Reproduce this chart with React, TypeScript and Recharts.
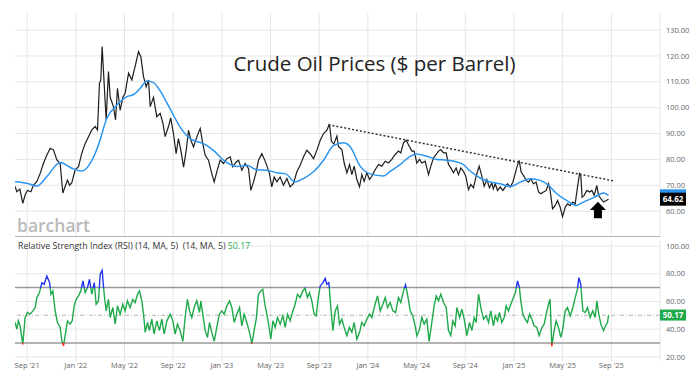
import React from 'react';
import { LineChart, Line, XAxis, YAxis, ReferenceLine, ReferenceDot } from 'recharts';

// x = months since Sep 2021 (Sep '21 = 0)
const xTicks = [0, 4, 8, 12, 16, 20, 24, 28, 32, 36, 40, 44, 48];
const xTickLabels = ["Sep '21", "Jan '22", "May '22", "Sep '22", "Jan '23", "May '23", "Sep '23", "Jan '24", "May '24", "Sep '24", "Jan '25", "May '25", "Sep '25"];
const priceTicks = [60, 70, 80, 90, 100, 110, 120, 130];
const rsiTicks = [20, 40, 60, 80, 100];

const pricePoints: [number, number][] = [
  [-0.99, 69.5], [-0.85, 67.5], [-0.6, 68.5], [-0.36, 63], [-0.15, 66.5], [0.03, 68], [0.3, 67.5], [0.52, 70], [0.8, 71.5],
  [1.07, 74.6], [1.34, 78.5], [1.62, 81.7], [1.89, 84.3], [2.16, 83.7], [2.44, 79.8], [2.71, 78.5], [2.93, 67], [3.12, 69.5],
  [3.31, 72], [3.48, 70], [3.67, 71], [3.94, 76], [4.22, 77.2], [4.49, 82.4], [4.77, 86.2], [5.04, 88.8], [5.31, 91.4],
  [5.59, 92.7], [5.78, 91.4], [5.94, 109.4], [6.05, 110.7], [6.16, 123.6], [6.33, 109], [6.49, 95.3], [6.68, 114], [6.82, 104],
  [7.09, 100.4], [7.26, 95.3], [7.42, 107.5], [7.64, 99], [7.86, 104], [8.05, 105.6], [8.33, 113.3], [8.6, 110.7], [8.87, 116],
  [9.15, 121.7], [9.34, 119.7], [9.56, 112], [9.78, 108], [9.97, 110.7], [10.11, 100.4], [10.38, 104], [10.65, 96.5], [10.93, 97.8],
  [11.15, 94], [11.34, 88.8], [11.61, 92.7], [11.8, 96], [12.02, 90], [12.24, 82.2], [12.43, 88], [12.63, 83.5], [12.85, 77],
  [13.07, 83.5], [13.26, 91.2], [13.45, 87.4], [13.67, 84.8], [13.94, 88.7], [14.22, 92], [14.43, 86.1], [14.63, 81.6], [14.9, 79.7],
  [15.17, 74.5], [15.37, 71.3], [15.58, 75.2], [15.86, 79.7], [16.13, 78.4], [16.41, 80.3], [16.68, 81], [16.9, 77.1], [17.17, 79],
  [17.37, 79.7], [17.64, 75.8], [17.91, 78.4], [18.19, 76.4], [18.38, 68], [18.6, 71.3], [18.82, 75.2], [19.01, 79.7], [19.28, 82.2],
  [19.47, 80.3], [19.69, 77.7], [19.91, 74.5], [20.1, 69.4], [20.3, 73.2], [20.52, 71.3], [20.79, 73.2], [21.06, 70], [21.34, 72.6],
  [21.61, 69.4], [21.88, 70.7], [22.16, 75.2], [22.43, 77.7], [22.71, 81], [22.98, 83.5], [23.25, 82.2], [23.53, 80.3], [23.8, 83.5],
  [24.08, 87.4], [24.35, 90], [24.62, 91.2], [24.84, 93.7], [25.0, 87], [25.2, 86], [25.45, 89], [25.58, 85], [25.86, 83.8],
  [26.05, 78.6], [26.27, 74.8], [26.49, 78], [26.68, 74.1], [26.87, 77.4], [27.09, 72.2], [27.31, 69.4], [27.5, 74.1], [27.69, 71.5],
  [27.91, 74.8], [28.13, 72.2], [28.32, 73.5], [28.59, 76], [28.87, 78], [29.14, 77.4], [29.42, 79.3], [29.69, 78.6], [29.96, 80],
  [30.24, 81.9], [30.51, 83.2], [30.7, 82.5], [30.92, 86.4], [31.14, 87.4], [31.33, 85.7], [31.61, 83.2], [31.8, 83.2], [32.02, 78.6],
  [32.24, 80], [32.43, 78.6], [32.7, 79.3], [32.98, 74.1], [33.17, 77.4], [33.39, 80.6], [33.61, 81.9], [33.8, 83.2], [33.99, 83.8],
  [34.21, 82.5], [34.43, 82.5], [34.62, 78], [34.81, 76.7], [35.03, 74.8], [35.25, 76.7], [35.44, 74.1], [35.63, 76.7], [35.85, 75.4],
  [36.04, 73.5], [36.26, 68.3], [36.46, 70.3], [36.67, 69], [36.89, 73.5], [37.14, 77.4], [37.36, 73.5], [37.55, 69.6], [37.77, 72.2],
  [37.99, 69], [38.18, 70.9], [38.3, 68.6], [38.46, 70.6], [38.65, 68], [38.87, 69.3], [39.09, 68], [39.28, 69.3], [39.47, 70.6],
  [39.69, 69.3], [39.91, 71.2], [40.1, 74.5], [40.24, 77], [40.43, 79.6], [40.59, 75.1], [40.78, 73.8], [41.0, 71.9], [41.19, 71.2],
  [41.39, 72.5], [41.6, 70.6], [41.82, 71.2], [42.02, 67.4], [42.21, 66.7], [42.43, 67.4], [42.65, 68], [42.84, 70.6], [42.97, 68],
  [43.17, 60.9], [43.39, 62.2], [43.58, 64.1], [43.8, 61.5], [43.99, 57.9], [44.21, 61.5], [44.4, 62.8], [44.62, 62.2], [44.84, 63.5],
  [45.03, 62.8], [45.22, 69.3], [45.39, 74.5], [45.49, 73.8], [45.6, 65.4], [45.77, 66.1], [45.99, 68], [46.21, 67.4], [46.4, 68],
  [46.59, 66.1], [46.81, 69.9], [46.95, 66.1], [47.14, 64.8], [47.36, 63.5], [47.58, 64.1], [47.77, 64.62],
];

const maPoints: [number, number][] = [
  [-0.99, 71.4], [-0.02, 70.8], [0.8, 69.7], [1.62, 73.4], [2.71, 78.8], [3.67, 76.6], [4.49, 75.5], [5.18, 78.5], [5.86, 85.6],
  [6.55, 95.9], [7.37, 101], [8.19, 104.3], [8.73, 105], [9.29, 107.5], [9.84, 110.3], [10.38, 109.7], [11.2, 104.3], [11.75, 99.5],
  [12.57, 92.5], [13.39, 88], [14.49, 86.1], [15.31, 83.5], [16.13, 79.7], [17.23, 77.3], [18.05, 77.7], [18.87, 76], [19.7, 75.8],
  [20.52, 74.8], [21.2, 74.5], [22.02, 71.3], [22.7, 72.6], [23.53, 75.2], [24.35, 79.7], [25.17, 85.3], [25.99, 86.4], [26.54, 84.9],
  [27.36, 77.4], [28.18, 74.4], [29.28, 73.6], [29.83, 75.4], [30.65, 78], [31.47, 81.2], [32.02, 82.1], [32.84, 81.2], [33.67, 80],
  [34.49, 79.7], [35.31, 79], [35.85, 78], [36.4, 75.5], [37.22, 72.8], [38.04, 71.3], [38.87, 70.6], [39.69, 69.5], [40.51, 71.2],
  [41.33, 72.5], [42.15, 71.9], [42.84, 70], [43.52, 66.7], [44.35, 64.1], [45.11, 62.2], [45.71, 63.5], [46.53, 65.2], [47.35, 67],
  [47.77, 66.1],
];

const rsiPoints: [number, number][] = [
  [-0.99, 44.8], [-0.85, 40], [-0.72, 46], [-0.58, 42.4], [-0.36, 29], [-0.17, 48.4], [0.03, 52], [0.25, 50.8], [0.47, 53.2],
  [0.66, 55.6], [0.79, 62.8], [1.01, 66.4], [1.21, 73.6], [1.4, 72.4], [1.62, 78.4], [1.84, 73.6], [1.95, 65.2], [2.11, 67.6],
  [2.3, 53.2], [2.49, 44.8], [2.71, 41.2], [2.85, 31.7], [2.99, 28], [3.12, 35.3], [3.31, 46], [3.53, 43.6], [3.7, 46],
  [3.86, 56.8], [4.03, 61.6], [4.22, 64], [4.41, 67.6], [4.58, 74.8], [4.77, 66.4], [4.96, 70], [5.12, 76], [5.31, 65.2],
  [5.51, 73.6], [5.67, 58], [5.86, 60.4], [6.0, 79.6], [6.16, 82.5], [6.33, 65.2], [6.49, 53.2], [6.68, 61.6], [6.82, 48.4],
  [7.04, 55.6], [7.23, 43.6], [7.42, 56.8], [7.64, 50.8], [7.86, 58], [8.05, 53.2], [8.24, 60.4], [8.46, 55.6], [8.68, 61.6],
  [8.87, 59.2], [9.07, 65.2], [9.23, 67.6], [9.42, 60.4], [9.56, 50.8], [9.7, 37.7], [9.89, 44.8], [10.05, 38.9], [10.24, 47.2],
  [10.43, 36.5], [10.65, 46], [10.87, 38.9], [11.06, 47.2], [11.26, 36.5], [11.48, 46], [11.75, 50.8], [11.97, 46], [12.16, 36.5],
  [12.35, 43.6], [12.57, 38.9], [12.79, 31.2], [12.98, 48.4], [13.17, 61.6], [13.34, 53.2], [13.53, 48.4], [13.72, 55.6], [13.94, 60.4],
  [14.16, 52], [14.27, 60.4], [14.43, 50.8], [14.63, 38.9], [14.82, 34], [14.98, 44.8], [15.17, 37.7], [15.37, 31.2], [15.58, 41.2],
  [15.8, 50.8], [15.99, 53.2], [16.19, 50.8], [16.41, 56.8], [16.63, 60.4], [16.82, 55.6], [17.01, 44.8], [17.23, 50.8], [17.45, 55.6],
  [17.64, 42.4], [17.83, 50.8], [18.05, 44.8], [18.27, 37.7], [18.46, 29.3], [18.65, 38.9], [18.82, 47.2], [19.01, 65.2], [19.2, 67.6],
  [19.36, 68.8], [19.53, 58], [19.69, 50.8], [19.86, 42.4], [20.02, 32.8], [20.19, 46], [20.38, 41.2], [20.57, 48.4], [20.79, 43.6],
  [21.01, 49.6], [21.2, 41.2], [21.39, 50.8], [21.61, 46], [21.83, 53.2], [22.02, 58], [22.21, 65.2], [22.43, 62.8], [22.65, 67.6],
  [22.84, 69.5], [23.03, 62.8], [23.2, 66.4], [23.39, 60.4], [23.58, 50.8], [23.75, 49.6], [23.94, 64], [24.08, 71.2], [24.3, 73.6],
  [24.49, 76.7], [24.62, 72.4], [24.79, 73.6], [24.95, 55.6], [25.12, 38.9], [25.31, 53.2], [25.5, 56.8], [25.66, 43.6], [25.86, 47.2],
  [26.05, 41.2], [26.27, 35.3], [26.48, 41.2], [26.68, 37.7], [26.87, 44.8], [27.09, 32.8], [27.31, 37.7], [27.5, 44.8], [27.69, 42.4],
  [27.91, 47.2], [28.13, 50.8], [28.32, 48.4], [28.59, 58], [28.79, 64], [29.01, 53.2], [29.23, 58], [29.42, 62.8], [29.61, 55.6],
  [29.83, 59.2], [30.05, 53.2], [30.27, 52], [30.51, 62.8], [30.7, 59.2], [30.92, 67.6], [31.09, 71.9], [31.25, 65.2], [31.47, 53.2],
  [31.69, 49.6], [31.88, 42.4], [32.02, 35.3], [32.24, 40], [32.43, 48.4], [32.62, 43.6], [32.84, 47.2], [33.03, 31.2], [33.25, 44.8],
  [33.44, 56.8], [33.61, 64], [33.8, 60.4], [33.99, 65.2], [34.21, 59.2], [34.43, 55.6], [34.62, 38.9], [34.81, 35.3], [34.98, 46],
  [35.17, 42.4], [35.31, 55.6], [35.53, 48.4], [35.72, 54.4], [35.91, 47.2], [36.13, 35.3], [36.35, 44.8], [36.54, 38.9], [36.73, 48.4],
  [36.89, 44.8], [37.09, 65.2], [37.28, 55.6], [37.5, 47.2], [37.72, 49.6], [37.91, 44.8], [38.1, 53.2], [38.32, 42.4], [38.46, 49.6],
  [38.65, 46], [38.81, 52], [39.0, 44.8], [39.2, 48.4], [39.36, 56.8], [39.55, 53.2], [39.74, 58], [39.96, 62.8], [40.12, 66.4],
  [40.29, 74.8], [40.45, 70], [40.56, 60.4], [40.73, 50.8], [40.92, 47.2], [41.11, 44.8], [41.28, 50.8], [41.47, 47.2], [41.66, 42.4],
  [41.88, 41.2], [42.07, 35.3], [42.29, 41.2], [42.48, 43.6], [42.65, 50.8], [42.84, 58], [42.97, 61.6], [43.11, 27.6], [43.3, 38.9],
  [43.47, 46], [43.66, 41.2], [43.85, 34], [44.01, 40], [44.21, 53.2], [44.4, 55.6], [44.62, 49.6], [44.84, 55.6], [45.03, 62.8],
  [45.22, 68.8], [45.33, 77.2], [45.49, 72.4], [45.66, 53.2], [45.85, 52], [46.04, 55.6], [46.26, 48.4], [46.48, 53.2], [46.67, 48.4],
  [46.81, 60.4], [46.97, 50.8], [47.14, 43.6], [47.36, 38.9], [47.52, 42.4], [47.69, 44.8], [47.77, 50.17],
];

const trendStart = { x: 24.76, y: 93.4 };
const trendEnd = { x: 48.18, y: 71.7 };
const arrowPoint = { x: 46.9, y: 63.65 };
const lastMA = 66.13;

const priceData = pricePoints.map(([t, v]) => ({ t, v }));
const maData = maPoints.map(([t, v]) => ({ t, v }));
const rsiData = rsiPoints.map(([t, v]) => ({ t, v }));
const lastPrice = pricePoints[pricePoints.length - 1][1];
const lastRsi = rsiPoints[rsiPoints.length - 1][1];

const rsiVals = rsiPoints.map((p) => p[1]);
const rsiMax = Math.max(...rsiVals);
const rsiMin = Math.min(...rsiVals);
const off70 = (rsiMax - 70) / (rsiMax - rsiMin);
const off30 = (rsiMax - 30) / (rsiMax - rsiMin);

const FONT = '"Open Sans", "Noto Sans", sans-serif';
const GRID = '#e6e6e6';
const AXIS_X = [-1, 52];

const tickStyle = { fill: '#666', fontSize: 7.5, fontFamily: FONT };

const Box = (color: string, text: string | null, h: number) => (props: any) => {
  const { cx, cy } = props;
  return (
    <g>
      <rect x={cx} y={cy - h / 2} width={26} height={h} fill={color} />
      {text ? (
        <text x={cx + 13} y={cy + 3} textAnchor="middle" fill="#fff" fontSize={8} fontWeight={700} fontFamily={FONT}>{text}</text>
      ) : null}
    </g>
  );
};

const Arrow = (props: any) => {
  const { cx, cy } = props;
  const pts = [
    [cx, cy], [cx + 8, cy + 8.3], [cx + 4, cy + 8.3], [cx + 4, cy + 16.5],
    [cx - 4, cy + 16.5], [cx - 4, cy + 8.3], [cx - 8, cy + 8.3],
  ].map((p) => p.join(',')).join(' ');
  return <polygon points={pts} fill="#000" />;
};

export default function App() {
  return (
    <div style={{ position: 'absolute', left: 0, top: 0, width: 700, height: 381, background: '#fff', fontFamily: FONT, overflow: 'hidden' }}>
      <svg width={700} height={381} style={{ position: 'absolute', left: 0, top: 0 }}>
        <text x={17} y={232} fontSize={17.5} fontWeight={600} fill="#b9b9b9" fontFamily={FONT}>barchart</text>
      </svg>
      <div style={{ position: 'absolute', left: 0, top: 0 }}>
        <LineChart width={700} height={237} margin={{ top: 13, right: 0, left: 15, bottom: 0 }}>
          <XAxis type="number" dataKey="t" domain={AXIS_X} hide allowDataOverflow />
          <YAxis orientation="right" domain={[50, 136.6]} ticks={priceTicks} width={40} axisLine={false} tickLine={false}
            tickSize={4} tickMargin={2} tick={tickStyle} tickFormatter={(v: number) => v.toFixed(2)} allowDataOverflow />
          {priceTicks.map((v) => <ReferenceLine key={'h' + v} y={v} stroke={GRID} strokeWidth={1} />)}
          {xTicks.map((t) => <ReferenceLine key={'v' + t} x={t} stroke={GRID} strokeWidth={1} />)}
          <ReferenceLine x={52} stroke={GRID} strokeWidth={1} />
          <ReferenceLine y={50} stroke="#9a9a9a" strokeWidth={1.5} />
          <Line data={priceData} dataKey="v" stroke="#1e1e1e" strokeWidth={1.2} dot={false} isAnimationActive={false} />
          <Line data={maData} dataKey="v" stroke="#2b95f0" strokeWidth={1.5} dot={false} isAnimationActive={false} type="monotone" />
          <ReferenceLine segment={[trendStart, trendEnd]} stroke="#333" strokeWidth={1.5} strokeDasharray="2 2" ifOverflow="visible" />
          <ReferenceDot x={arrowPoint.x} y={arrowPoint.y} shape={Arrow} />
          <ReferenceDot x={52} y={lastMA} shape={Box('#2b95f0', null, 12)} />
          <ReferenceDot x={52} y={lastPrice} shape={Box('#000', lastPrice.toFixed(2), 13)} />
        </LineChart>
      </div>
      <div style={{ position: 'absolute', left: 0, top: 0 }}>
        <LineChart width={700} height={381} margin={{ top: 240.5, right: 0, left: 15, bottom: 0 }}>
          <defs>
            <linearGradient id="rsiGrad" x1="0" y1="0" x2="0" y2="1">
              <stop offset={0} stopColor="#1f35f0" />
              <stop offset={off70} stopColor="#1f35f0" />
              <stop offset={off70} stopColor="#1fa94a" />
              <stop offset={off30} stopColor="#1fa94a" />
              <stop offset={off30} stopColor="#ff1a1a" />
              <stop offset={1} stopColor="#ff1a1a" />
            </linearGradient>
          </defs>
          <XAxis type="number" dataKey="t" domain={AXIS_X} ticks={xTicks} height={20} axisLine={false} tickLine={false}
            tickSize={0} tickMargin={2} tick={tickStyle} interval={0}
            tickFormatter={(v: number) => xTickLabels[xTicks.indexOf(v)] ?? ''} allowDataOverflow />
          <YAxis orientation="right" domain={[17, 104]} ticks={rsiTicks} width={40} axisLine={false} tickLine={false}
            tickSize={4} tickMargin={2} tick={tickStyle} tickFormatter={(v: number) => v.toFixed(2)} allowDataOverflow />
          {rsiTicks.map((v) => <ReferenceLine key={'rh' + v} y={v} stroke={GRID} strokeWidth={1} />)}
          {xTicks.map((t) => <ReferenceLine key={'rv' + t} x={t} stroke={GRID} strokeWidth={1} />)}
          <ReferenceLine x={52} stroke={GRID} strokeWidth={1} />
          <ReferenceLine y={70} stroke="#9a9a9a" strokeWidth={1.5} />
          <ReferenceLine y={30} stroke="#9a9a9a" strokeWidth={1.5} />
          <ReferenceLine y={50} stroke="#b5b5b5" strokeWidth={1} strokeDasharray="4 2 1 2" />
          <Line data={rsiData} dataKey="v" stroke="url(#rsiGrad)" strokeWidth={1.4} dot={false} isAnimationActive={false} />
          <ReferenceDot x={52} y={lastRsi} shape={Box('#1fa94a', lastRsi.toFixed(2), 11)} />
        </LineChart>
      </div>
      <svg width={700} height={381} style={{ position: 'absolute', left: 0, top: 0, pointerEvents: 'none' }}>
        <text x={374.5} y={71} textAnchor="middle" fontSize={20.5} fill="#222" fontFamily={FONT}>Crude Oil Prices ($ per Barrel)</text>
        <rect x={15} y={240} width={230} height={10} fill="#fff" />
        <text x={18} y={248.5} fontSize={8.8} fill="#333" fontFamily={FONT} style={{ whiteSpace: 'pre' }}>
          {'Relative Strength Index (RSI) (14, MA, 5)  (14, MA, 5) '}<tspan fill="#1fa94a">50.17</tspan>
        </text>
      </svg>
    </div>
  );
}
